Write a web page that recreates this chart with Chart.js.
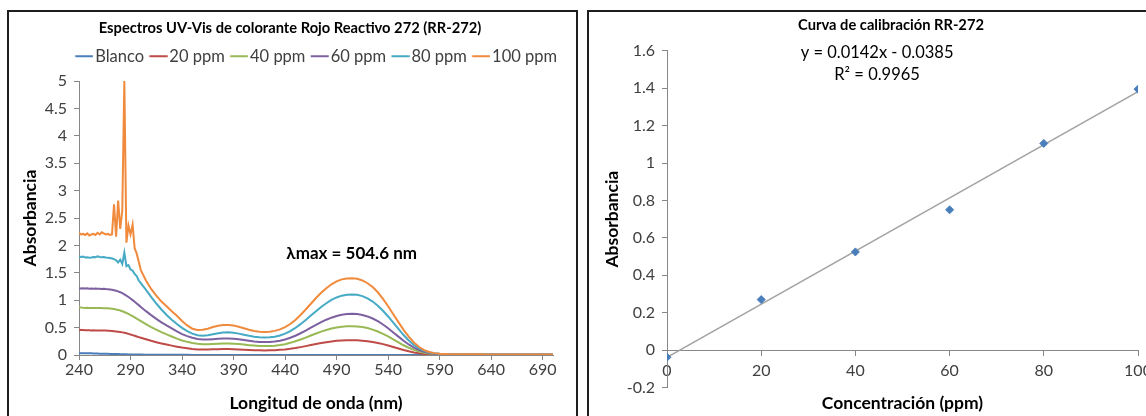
<!DOCTYPE html>
<html><head><meta charset="utf-8">
<script src="https://cdn.jsdelivr.net/npm/chart.js@4.4.1/dist/chart.umd.min.js"></script>
<style>
html,body{margin:0;padding:0;background:#fff;overflow:hidden;width:1146px;height:416px;position:relative;}
canvas{position:absolute;top:0;}
#c1{left:0;}
#c2{left:580px;}
.box{position:absolute;border:2px solid #1e1e1e;box-sizing:border-box;pointer-events:none;}
#b1{left:7px;top:10px;width:571px;height:430px;}
#b2{left:587px;top:10px;width:600px;height:430px;}
</style></head><body>
<canvas id="c1" width="580" height="416" style="width:580px;height:416px"></canvas>
<canvas id="c2" width="622" height="416" style="width:622px;height:416px"></canvas>
<div class="box" id="b1"></div><div class="box" id="b2"></div>
<script>
// ---------- Chart 1 data: UV-Vis spectra ----------
const title1 = 'Espectros UV-Vis de colorante Rojo Reactivo 272 (RR-272)';
const seriesNames = ['Blanco', '20 ppm', '40 ppm', '60 ppm', '80 ppm', '100 ppm'];
const seriesColors = ['#4A7EBB', '#BE4B48', '#98B954', '#7D60A0', '#46AAC5', '#F08A3C'];
const xTicks1 = [240, 290, 340, 390, 440, 490, 540, 590, 640, 690];
const yTicks1 = [0, 0.5, 1, 1.5, 2, 2.5, 3, 3.5, 4, 4.5, 5];
const lambdaLabel = 'λmax = 504.6 nm';

const wavelength = [240,242,244,246,248,250,252,254,256,258,260,262,264,266,268,270,272,274,276,278,280,282,284,286,288,290,292,294,296,298,300,
 305,310,315,320,325,330,335,340,345,350,355,360,365,370,375,380,385,390,395,400,
 405,410,415,420,425,430,435,440,445,450,455,460,465,470,475,480,485,490,495,500,
 505,510,515,520,525,530,535,540,545,550,555,560,565,570,575,580,585,590,595,600,
 605,610,615,620,625,630,635,640,645,650,655,660,665,670,675,680,685,690,695,700];

const blanco = [0.035,0.034,0.034,0.032,0.031,0.030,0.030,0.028,0.027,0.026,0.025,0.024,0.023,0.022,0.021,0.020,0.019,0.018,0.017,0.016,0.015,0.014,0.013,0.012,0.011,0.010,0.009,0.009,0.008,0.007,0.007,
 0.006,0.005,0.005,0.004,0.004,0.003,0.003,0.003,0.003,0.002,0.002,0.002,0.002,0.002,0.002,0.002,0.002,0.002,0.002,0.002,
 0.002,0.002,0.002,0.002,0.002,0.002,0.002,0.002,0.002,0.002,0.002,0.002,0.002,0.002,0.002,0.002,0.002,0.002,0.002,0.002,
 0.002,0.002,0.002,0.002,0.002,0.002,0.002,0.002,0.002,0.002,0.002,0.002,0.002,0.002,0.002,0.002,0.002,0.002,0.002,0.002,
 0.002,0.002,0.002,0.002,0.002,0.002,0.002,0.002,0.002,0.002,0.002,0.002,0.002,0.002,0.002,0.002,0.002,0.002,0.002,0.002];

const ppm20 = [0.460,0.455,0.456,0.452,0.451,0.450,0.449,0.450,0.448,0.449,0.447,0.447,0.446,0.445,0.443,0.441,0.438,0.435,0.431,0.426,0.420,0.413,0.405,0.396,0.386,0.375,0.363,0.351,0.339,0.327,0.315,
 0.287,0.259,0.234,0.211,0.190,0.171,0.152,0.135,0.122,0.110,0.102,0.099,0.100,0.103,0.106,0.108,0.108,0.106,0.102,0.097,
 0.092,0.088,0.085,0.084,0.085,0.088,0.094,0.102,0.113,0.127,0.144,0.162,0.181,0.200,0.218,0.234,0.248,0.258,0.265,0.269,
 0.270,0.268,0.262,0.252,0.238,0.220,0.198,0.173,0.146,0.118,0.091,0.067,0.047,0.031,0.020,0.013,0.009,0.007,0.006,0.006,
 0.005,0.005,0.005,0.005,0.005,0.005,0.004,0.004,0.004,0.004,0.004,0.004,0.004,0.004,0.004,0.004,0.004,0.004,0.004,0.004];

const ppm40 = [0.870,0.865,0.862,0.860,0.861,0.858,0.860,0.857,0.859,0.856,0.858,0.856,0.855,0.853,0.851,0.848,0.844,0.839,0.832,0.823,0.812,0.799,0.784,0.767,0.749,0.729,0.708,0.686,0.664,0.641,0.618,
 0.562,0.510,0.462,0.417,0.376,0.338,0.300,0.265,0.240,0.220,0.205,0.198,0.198,0.202,0.207,0.210,0.211,0.207,0.200,0.190,
 0.180,0.172,0.166,0.164,0.166,0.171,0.182,0.197,0.222,0.250,0.283,0.318,0.355,0.392,0.427,0.457,0.483,0.503,0.516,0.524,
 0.526,0.522,0.510,0.491,0.464,0.429,0.386,0.338,0.285,0.231,0.178,0.132,0.093,0.062,0.040,0.026,0.017,0.012,0.010,0.009,
 0.008,0.008,0.007,0.007,0.007,0.007,0.006,0.006,0.006,0.006,0.006,0.006,0.006,0.006,0.006,0.006,0.006,0.006,0.006,0.006];

const ppm60 = [1.220,1.215,1.218,1.212,1.216,1.210,1.214,1.209,1.213,1.208,1.211,1.206,1.208,1.203,1.200,1.196,1.190,1.183,1.173,1.161,1.146,1.128,1.107,1.084,1.058,1.031,1.002,0.972,0.941,0.910,0.878,
 0.800,0.728,0.660,0.597,0.540,0.486,0.430,0.380,0.345,0.315,0.293,0.283,0.283,0.289,0.296,0.301,0.302,0.297,0.286,0.272,
 0.258,0.246,0.238,0.235,0.238,0.246,0.262,0.284,0.314,0.352,0.397,0.447,0.500,0.551,0.600,0.644,0.681,0.712,0.734,0.748,
 0.752,0.747,0.731,0.704,0.666,0.617,0.557,0.488,0.412,0.335,0.259,0.192,0.136,0.091,0.059,0.037,0.024,0.016,0.012,0.011,
 0.010,0.010,0.009,0.009,0.009,0.008,0.008,0.008,0.008,0.008,0.008,0.008,0.007,0.007,0.007,0.007,0.007,0.007,0.007,0.007];

const ppm80 = [1.800,1.790,1.795,1.780,1.785,1.775,1.780,1.790,1.785,1.800,1.790,1.785,1.790,1.780,1.775,1.770,1.760,1.750,1.730,1.690,1.740,1.660,1.870,1.620,1.640,1.560,1.540,1.480,1.440,1.360,1.310,
 1.190,1.060,0.940,0.830,0.730,0.645,0.565,0.495,0.435,0.390,0.360,0.352,0.360,0.378,0.397,0.410,0.413,0.405,0.390,0.370,
 0.350,0.334,0.322,0.318,0.322,0.335,0.357,0.390,0.435,0.494,0.563,0.640,0.720,0.800,0.877,0.945,1.005,1.050,1.083,1.100,
 1.105,1.098,1.074,1.033,0.975,0.900,0.807,0.703,0.590,0.475,0.364,0.265,0.182,0.119,0.075,0.047,0.030,0.021,0.016,0.014,
 0.013,0.012,0.012,0.011,0.011,0.011,0.010,0.010,0.010,0.010,0.010,0.009,0.009,0.009,0.009,0.009,0.009,0.009,0.009,0.009];

const ppm100 = [2.230,2.200,2.210,2.190,2.220,2.180,2.200,2.210,2.190,2.230,2.200,2.240,2.220,2.200,2.210,2.190,2.200,2.750,2.160,2.820,2.300,2.640,5.000,2.050,2.360,2.200,2.380,1.950,1.850,1.700,1.550,
 1.360,1.205,1.085,0.975,0.890,0.800,0.715,0.620,0.540,0.480,0.455,0.460,0.480,0.510,0.535,0.548,0.548,0.538,0.515,0.487,
 0.460,0.438,0.425,0.420,0.425,0.440,0.468,0.508,0.565,0.640,0.730,0.830,0.935,1.040,1.135,1.220,1.290,1.345,1.380,1.397,
 1.400,1.390,1.360,1.310,1.240,1.145,1.025,0.890,0.745,0.600,0.460,0.335,0.228,0.146,0.090,0.055,0.034,0.023,0.018,0.015,
 0.014,0.013,0.013,0.012,0.012,0.012,0.011,0.011,0.011,0.011,0.010,0.010,0.010,0.010,0.010,0.010,0.010,0.010,0.010,0.010];

const spectra = [blanco, ppm20, ppm40, ppm60, ppm80, ppm100];

// ---------- Chart 2 data: calibration curve ----------
const title2 = 'Curva de calibración RR-272';
const concentration = [0, 20, 40, 60, 80, 100];
const absorbance = [-0.038, 0.27, 0.525, 0.75, 1.105, 1.395];
const trendX = [0, 100];
const trendY = [-0.0385, 1.3815];
const xTicks2 = [0, 20, 40, 60, 80, 100];
const yTicks2 = [-0.2, 0, 0.2, 0.4, 0.6, 0.8, 1, 1.2, 1.4, 1.6];
const equationLines = ['y = 0.0142x - 0.0385', 'R² = 0.9965'];

// ---------- common style ----------
const FONT = "Lato, 'Open Sans', 'Liberation Sans', sans-serif";
Chart.defaults.font.family = FONT;
Chart.defaults.color = '#404040';
const AXIS = '#878787';
const TXT = '#404040';
const TICK_SIZE = 16;
const AXIS_TITLE_SIZE = 17.5;
const LEGEND_SIZE = 16.5;

// legend line icons: an 18px line placed right next to the label text
const LEGEND_BOX = 12;
const legendIcons = seriesColors.map(col => {
  const line = 18, gap = 2;
  const right = LEGEND_BOX + LEGEND_SIZE / 2 - gap;      // end of line relative to box left
  const half = Math.max(right - LEGEND_BOX / 2, LEGEND_BOX / 2);
  const c = document.createElement('canvas');
  c.width = Math.ceil(half * 2); c.height = 4;
  const g = c.getContext('2d');
  g.strokeStyle = col; g.lineWidth = 2;
  const x0 = c.width / 2 - LEGEND_BOX / 2;               // box left inside icon
  g.beginPath(); g.moveTo(x0 + right - line, 2); g.lineTo(x0 + right, 2); g.stroke();
  return c;
});

// centre the legend row over the plot area (as the spreadsheet does), keeping its width
const legendOverPlot = {
  id: 'legendOverPlot',
  afterLayout(chart) {
    const lg = chart.legend;
    if (lg && lg.options.display) {
      const d = (chart.chartArea.left + chart.chartArea.right) / 2 - (lg.left + lg.right) / 2;
      lg.left += d;
      lg.right += d;
    }
  }
};

const textPlugin = {
  id: 'textNotes',
  afterDatasetsDraw(chart, args, opts) {
    const ctx = chart.ctx;
    (opts.items || []).forEach(it => {
      const x = chart.scales.x.getPixelForValue(it.x);
      const y = chart.scales.y.getPixelForValue(it.y);
      ctx.save();
      ctx.font = it.font;
      ctx.fillStyle = it.color;
      ctx.textAlign = 'center';
      ctx.textBaseline = 'middle';
      it.lines.forEach((t, k) => ctx.fillText(t, x, y + k * it.lineGap));
      ctx.restore();
    });
  }
};

const hidden = (fit) => ({
  type: 'linear', display: true, afterFit: fit,
  grid: {display: false}, border: {display: false}, ticks: {display: false}
});

const fixTicks = (arr) => (s) => { s.ticks = arr.map(v => ({value: v})); };

// ---------- Chart 1 ----------
new Chart(document.getElementById('c1'), {
  type: 'line',
  data: {
    datasets: seriesNames.map((name, i) => ({
      label: name,
      data: wavelength.map((w, j) => ({x: w, y: spectra[i][j]})),
      borderColor: seriesColors[i],
      backgroundColor: seriesColors[i],
      borderWidth: 2,
      pointRadius: 0,
      tension: 0,
      order: seriesNames.length - i,
      xAxisID: 'x', yAxisID: 'y'
    }))
  },
  options: {
    responsive: false, animation: false, devicePixelRatio: 1,
    layout: {padding: 0},
    plugins: {
      title: {display: true, text: title1, color: '#000', font: {size: 14.7, weight: 'bold'}, padding: {top: 19.8, bottom: 5.5}},
      legend: {display: true, position: 'top',
        labels: {usePointStyle: true, pointStyleWidth: LEGEND_BOX, padding: 5, color: TXT, font: {size: LEGEND_SIZE},
          sort: (a, b) => a.datasetIndex - b.datasetIndex,
          generateLabels: chart => Chart.defaults.plugins.legend.labels.generateLabels(chart)
            .map(it => Object.assign(it, {pointStyle: legendIcons[it.datasetIndex]}))}},
      tooltip: {enabled: false},
      textNotes: {items: [{x: 504.6, y: 1.86, lines: [lambdaLabel], lineGap: 0, font: "bold 17px " + FONT, color: '#000'}]}
    },
    scales: {
      x: {type: 'linear', position: 'bottom', min: 240, max: 700,
        afterBuildTicks: fixTicks(xTicks1), afterFit: s => { s.height = 61; },
        grid: {drawOnChartArea: false, drawTicks: true, tickLength: 5, color: AXIS},
        border: {display: true, color: AXIS, width: 1},
        ticks: {color: TXT, font: {size: TICK_SIZE}, padding: 0.5, maxRotation: 0, callback: v => String(v)},
        title: {display: true, text: 'Longitud de onda (nm)', color: '#000', font: {size: AXIS_TITLE_SIZE, weight: 'bold'}, padding: {top: 0, bottom: 2.5}}},
      y: {type: 'linear', position: 'left', min: 0, max: 5,
        afterBuildTicks: fixTicks(yTicks1), afterFit: s => { s.width = 79; },
        grid: {drawOnChartArea: false, drawTicks: true, tickLength: 5, color: AXIS},
        border: {display: true, color: AXIS, width: 1},
        ticks: {color: TXT, font: {size: TICK_SIZE}, padding: 7, callback: v => String(v)},
        title: {display: true, text: 'Absorbancia', color: '#000', font: {size: AXIS_TITLE_SIZE, weight: 'bold'}, padding: {top: 19.5, bottom: 0}}},
      xTop: Object.assign(hidden(s => { s.height = 6.6; }), {position: 'top'}),
      yRight: Object.assign(hidden(s => { s.width = 27; }), {position: 'right'})
    }
  },
  plugins: [textPlugin, legendOverPlot]
});

// ---------- Chart 2 ----------
new Chart(document.getElementById('c2'), {
  data: {
    datasets: [
      {type: 'scatter', label: 'Absorbancia', data: concentration.map((c, i) => ({x: c, y: absorbance[i]})),
        pointStyle: 'rectRot', pointRadius: 4, backgroundColor: '#4A7EBB', borderColor: '#4A7EBB', borderWidth: 1,
        order: 0, xAxisID: 'x', yAxisID: 'y'},
      {type: 'line', label: 'Lineal', data: trendX.map((c, i) => ({x: c, y: trendY[i]})),
        borderColor: '#A3A3A3', borderWidth: 1.5, pointRadius: 0, tension: 0,
        order: 1, xAxisID: 'x', yAxisID: 'y'}
    ]
  },
  options: {
    responsive: false, animation: false, devicePixelRatio: 1,
    layout: {padding: 0},
    plugins: {
      title: {display: true, text: title2, color: '#000', font: {size: 14.7, weight: 'bold'}, padding: {top: 16.2, bottom: 17}},
      legend: {display: false},
      tooltip: {enabled: false},
      textNotes: {items: [{x: 44.6, y: 1.59, lines: equationLines, lineGap: 22, font: "16.5px " + FONT, color: '#000'}]}
    },
    scales: {
      x: {type: 'linear', position: {y: 0}, min: 0, max: 100,
        afterBuildTicks: fixTicks(xTicks2),
        grid: {drawOnChartArea: false, drawTicks: true, tickLength: 5, color: AXIS},
        border: {display: true, color: AXIS, width: 1},
        ticks: {color: TXT, font: {size: TICK_SIZE}, padding: 6, maxRotation: 0, callback: v => String(v)}},
      xB: Object.assign(hidden(s => { s.height = 28.5; }), {position: 'bottom',
        title: {display: true, text: 'Concentración (ppm)', color: '#000', font: {size: AXIS_TITLE_SIZE, weight: 'bold'}, padding: {top: 0, bottom: 2.5}}}),
      y: {type: 'linear', position: 'left', min: -0.2, max: 1.6,
        afterBuildTicks: fixTicks(yTicks2), afterFit: s => { s.width = 87; },
        grid: {drawOnChartArea: false, drawTicks: true, tickLength: 5, color: AXIS},
        border: {display: true, color: AXIS, width: 1},
        ticks: {color: TXT, font: {size: TICK_SIZE}, padding: 7, callback: v => String(v)},
        title: {display: true, text: 'Absorbancia', color: '#000', font: {size: AXIS_TITLE_SIZE, weight: 'bold'}, padding: {top: 21.5, bottom: 0}}},
      yR: Object.assign(hidden(s => { s.width = 64; }), {position: 'right'})
    }
  },
  plugins: [textPlugin]
});
</script>
</body></html>
